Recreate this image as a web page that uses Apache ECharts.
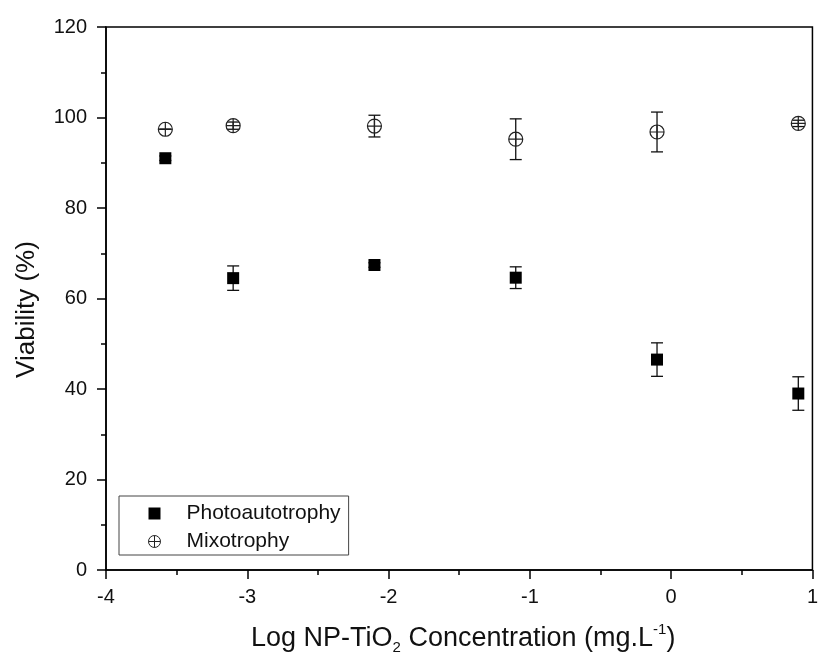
<!DOCTYPE html>
<html><head><meta charset="utf-8">
<script src="https://cdn.jsdelivr.net/npm/echarts@6/dist/echarts.min.js"></script>
<style>html,body{margin:0;padding:0;background:#fff}#c{width:821px;height:665px}</style>
</head><body><div id="c"></div>
<script>
const xVals = [-3.58, -3.1, -2.1, -1.1, -0.1, 0.9];
const photoMean = [91.0, 64.5, 67.4, 64.6, 46.5, 39.0];
const photoErr  = [0.5, 2.7, 0.5, 2.4, 3.7, 3.7];
const mixoMean  = [97.4, 98.2, 98.1, 95.2, 96.8, 98.7];
const mixoErr   = [0.0, 0.8, 2.4, 4.5, 4.4, 0.7];
const seriesNames = ['Photoautotrophy', 'Mixotrophy'];
const xTicks = [-4, -3, -2, -1, 0, 1];
const yTicks = [0, 20, 40, 60, 80, 100, 120];

const font = 'Liberation Sans, Arial, sans-serif';
const circlePlus = 'path://M0,-10A10,10 0 1,1 0,10A10,10 0 1,1 0,-10ZM-10,0L10,0M0,-10L0,10';

function pairs(m){ return xVals.map((x,i)=>[x,m[i]]); }
function errs(m,e){ return xVals.map((x,i)=>[x,m[i]-e[i],m[i]+e[i]]); }

function errItem(params, api){
  const x = api.value(0), lo = api.value(1), hi = api.value(2);
  const p1 = api.coord([x, hi]), p2 = api.coord([x, lo]);
  const w = 6;
  const st = {stroke:'#111', lineWidth:1.3};
  return {type:'group', children:[
    {type:'line', shape:{x1:p1[0],y1:p1[1],x2:p2[0],y2:p2[1]}, style:st},
    {type:'line', shape:{x1:p1[0]-w,y1:p1[1],x2:p1[0]+w,y2:p1[1]}, style:st},
    {type:'line', shape:{x1:p2[0]-w,y1:p2[1],x2:p2[0]+w,y2:p2[1]}, style:st}
  ]};
}

const chart = echarts.init(document.getElementById('c'), null, {renderer:'canvas'});
chart.setOption({
  animation:false,
  backgroundColor:'#fff',
  grid:{left:106, right:4, top:27, bottom:95, show:true, borderColor:'#000', borderWidth:1.5, backgroundColor:'transparent'},
  xAxis:{
    type:'value', min:xTicks[0], max:xTicks[xTicks.length-1], interval:1,
    axisLine:{show:true, onZero:false, lineStyle:{color:'#000', width:1.5}},
    axisTick:{show:true, inside:false, length:9, lineStyle:{color:'#000', width:1.5}},
    minorTick:{show:true, splitNumber:2, length:5, lineStyle:{color:'#000', width:1.5}},
    splitLine:{show:false},
    axisLabel:{color:'#111', fontSize:20, fontFamily:font, margin:17},
    name:'{t|Log NP-TiO}{sub|2}{t| Concentration (mg.L}{sup|-1}{t|)}',
    nameLocation:'middle', nameGap:52,
    nameTextStyle:{padding:[0,0,0,8], rich:{
      t:{fontSize:27, fontFamily:font, color:'#111'},
      sub:{fontSize:15, fontFamily:font, color:'#111', verticalAlign:'bottom', padding:[18,0,0,0]},
      sup:{fontSize:15, fontFamily:font, color:'#111', verticalAlign:'top', padding:[0,0,16,0]}
    }}
  },
  yAxis:{
    type:'value', min:yTicks[0], max:yTicks[yTicks.length-1], interval:20,
    axisLine:{show:true, onZero:false, lineStyle:{color:'#000', width:1.5}},
    axisTick:{show:true, inside:false, length:9, lineStyle:{color:'#000', width:1.5}},
    minorTick:{show:true, splitNumber:2, length:5, lineStyle:{color:'#000', width:1.5}},
    splitLine:{show:false},
    axisLabel:{color:'#111', fontSize:20, fontFamily:font, margin:19},
    name:'Viability (%)', nameLocation:'middle', nameGap:66, nameRotate:90,
    nameTextStyle:{fontSize:26, fontFamily:font, color:'#111', padding:[0,22,0,0]}
  },
  legend:{
    orient:'vertical', left:119, top:496,
    data:[
      {name:seriesNames[0], icon:'rect', itemStyle:{color:'#000', opacity:1}},
      {name:seriesNames[1], icon:circlePlus, itemStyle:{color:'transparent', borderColor:'#222', borderWidth:1}}
    ],
    itemWidth:12, itemHeight:12, itemGap:7,
    borderColor:'#444', borderWidth:1, padding:[7,8,3,29],
    textStyle:{fontSize:21, fontFamily:font, color:'#111', padding:[0,0,0,21]}
  },
  series:[
    {type:'custom', name:'errP', renderItem:errItem, data:errs(photoMean, photoErr), encode:{x:0,y:[1,2]}, z:2, silent:true},
    {type:'custom', name:'errM', renderItem:errItem, data:errs(mixoMean, mixoErr), encode:{x:0,y:[1,2]}, z:2, silent:true},
    {type:'scatter', name:seriesNames[0], data:pairs(photoMean), symbol:'rect', symbolSize:12,
     itemStyle:{color:'#000', opacity:1}, z:3},
    {type:'scatter', name:seriesNames[1], data:pairs(mixoMean), symbol:circlePlus, symbolSize:14,
     itemStyle:{color:'rgba(255,255,255,0)', borderColor:'#222', borderWidth:1.2, opacity:1}, z:3}
  ]
});
</script></body></html>
